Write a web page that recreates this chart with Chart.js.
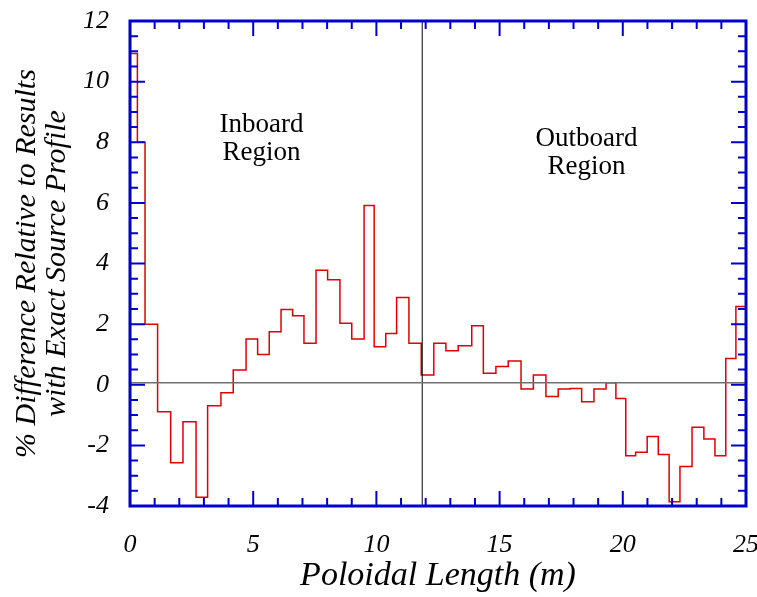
<!DOCTYPE html>
<html>
<head>
<meta charset="utf-8">
<script src="https://cdn.jsdelivr.net/npm/chart.js@4.4.1/dist/chart.umd.min.js"></script>
<style>
  html, body { margin: 0; padding: 0; background: #fff; }
  #wrap { width: 757px; height: 597px; position: relative; }
</style>
</head>
<body>
<div id="wrap"><canvas id="chart"></canvas></div>
<script>
// Bin edges along the poloidal length (m)
const binEdges = [0, 0.30, 0.61, 1.12, 1.65, 2.15, 2.68, 3.15, 3.69, 4.19, 4.71,
  5.18, 5.65, 6.13, 6.60, 7.06, 7.55, 8.02, 8.52, 9.00, 9.50,
  9.91, 10.38, 10.82, 11.32, 11.82, 12.33, 12.82, 13.32, 13.87, 14.34,
  14.85, 15.35, 15.87, 16.37, 16.88, 17.38, 17.86, 18.33, 18.83, 19.32,
  19.72, 20.12, 20.52, 20.99, 21.44, 21.88, 22.32, 22.81, 23.29, 23.74,
  24.18, 24.59, 25];

// % difference in each bin
const pctDiff = [10.93, 8.0, 2.0, -0.89, -2.57, -1.22, -3.71, -0.69, -0.26, 0.49,
  1.51, 1.0, 1.75, 2.48, 2.28, 1.37, 3.78, 3.46, 2.03, 1.51,
  5.91, 1.25, 1.69, 2.88, 1.37, 0.32, 1.37, 1.12, 1.29, 1.95,
  0.38, 0.60, 0.78, -0.14, 0.32, -0.39, -0.14, -0.12, -0.56, -0.14,
  0.07, -0.45, -2.34, -2.23, -1.71, -2.30, -3.86, -2.70, -1.40, -1.79,
  -2.34, 0.87, 2.58];

const xTicks = [0, 5, 10, 15, 20, 25];
const yTicks = [-4, -2, 0, 2, 4, 6, 8, 10, 12];

// inboard / outboard divider and the zero reference line
const dividerX = [11.86, 11.86];
const dividerY = [-4, 12];
const zeroX = [0, 25];
const zeroY = [0.07, 0.07];

const stepPoints = pctDiff.map((v, i) => ({ x: binEdges[i], y: v }));
stepPoints.push({ x: binEdges[binEdges.length - 1], y: pctDiff[pctDiff.length - 1] });

const BLUE = '#0000cc';
const SERIF = '"Liberation Serif", "Times New Roman", serif';

// blue frame with inward ticks on all four sides, plus region labels
const framePlugin = {
  id: 'frame',
  afterDatasetsDraw(chart) {
    const { ctx, chartArea: a, scales: { x, y } } = chart;
    ctx.save();
    ctx.strokeStyle = BLUE;
    ctx.lineWidth = 2;
    ctx.beginPath();
    for (let v = 1; v < 25; v++) {
      const px = x.getPixelForValue(v);
      const len = v % 5 === 0 ? 15 : 8;
      ctx.moveTo(px, a.bottom); ctx.lineTo(px, a.bottom - len);
      ctx.moveTo(px, a.top); ctx.lineTo(px, a.top + len);
    }
    for (let v = -3.5; v < 12; v += 0.5) {
      const py = y.getPixelForValue(v);
      const len = v % 2 === 0 ? 15 : 8;
      ctx.moveTo(a.left, py); ctx.lineTo(a.left + len, py);
      ctx.moveTo(a.right, py); ctx.lineTo(a.right - len, py);
    }
    ctx.stroke();
    ctx.lineWidth = 3;
    ctx.strokeRect(a.left, a.top, a.right - a.left, a.bottom - a.top);

    ctx.fillStyle = '#000';
    ctx.font = '27px ' + SERIF;
    ctx.textAlign = 'center';
    ctx.textBaseline = 'alphabetic';
    const labels = [
      { lines: ['Inboard', 'Region'], x: 5.34, y: 8.34 },
      { lines: ['Outboard', 'Region'], x: 18.53, y: 7.86 }
    ];
    labels.forEach(l => {
      const px = x.getPixelForValue(l.x);
      const py = y.getPixelForValue(l.y);
      l.lines.forEach((t, i) => ctx.fillText(t, px, py + i * 28));
    });
    ctx.restore();
  }
};

new Chart(document.getElementById('chart'), {
  type: 'line',
  data: {
    datasets: [
      {
        data: zeroX.map((v, i) => ({ x: v, y: zeroY[i] })),
        borderColor: '#707070',
        borderWidth: 1.5,
        pointRadius: 0
      },
      {
        data: dividerX.map((v, i) => ({ x: v, y: dividerY[i] })),
        borderColor: '#000',
        borderWidth: 1,
        pointRadius: 0
      },
      {
        data: stepPoints,
        stepped: 'before',
        borderColor: '#e00000',
        borderWidth: 1.5,
        pointRadius: 0
      }
    ]
  },
  options: {
    responsive: true,
    maintainAspectRatio: false,
    animation: false,
    layout: { padding: { top: 21, right: 11, left: 0, bottom: 0 } },
    plugins: { legend: { display: false }, tooltip: { enabled: false } },
    scales: {
      x: {
        type: 'linear',
        min: 0,
        max: 25,
        afterBuildTicks: s => { s.ticks = xTicks.map(v => ({ value: v })); },
        afterFit: s => { s.height = 91; s.paddingLeft = 0; s.paddingRight = 0; },
        grid: { display: false, drawTicks: false },
        border: { display: false },
        ticks: {
          padding: 24,
          color: '#000',
          font: { family: SERIF, style: 'italic', size: 26 }
        },
        title: {
          display: true,
          text: 'Poloidal Length (m)',
          color: '#000',
          padding: { top: 0, bottom: 1 },
          font: { family: SERIF, style: 'italic', size: 34 }
        }
      },
      y: {
        type: 'linear',
        min: -4,
        max: 12,
        afterBuildTicks: s => { s.ticks = yTicks.map(v => ({ value: v })); },
        afterFit: s => { s.width = 130; s.paddingTop = 0; s.paddingBottom = 0; },
        grid: { display: false, drawTicks: false },
        border: { display: false },
        ticks: {
          padding: 21,
          color: '#000',
          font: { family: SERIF, style: 'italic', size: 26 }
        },
        title: {
          display: true,
          text: ['% Difference Relative to Results', 'with Exact Source Profile'],
          color: '#000',
          padding: { top: 13, bottom: 0 },
          font: { family: SERIF, style: 'italic', size: 30, lineHeight: 0.97 }
        }
      }
    }
  },
  plugins: [framePlugin]
});
</script>
</body>
</html>
